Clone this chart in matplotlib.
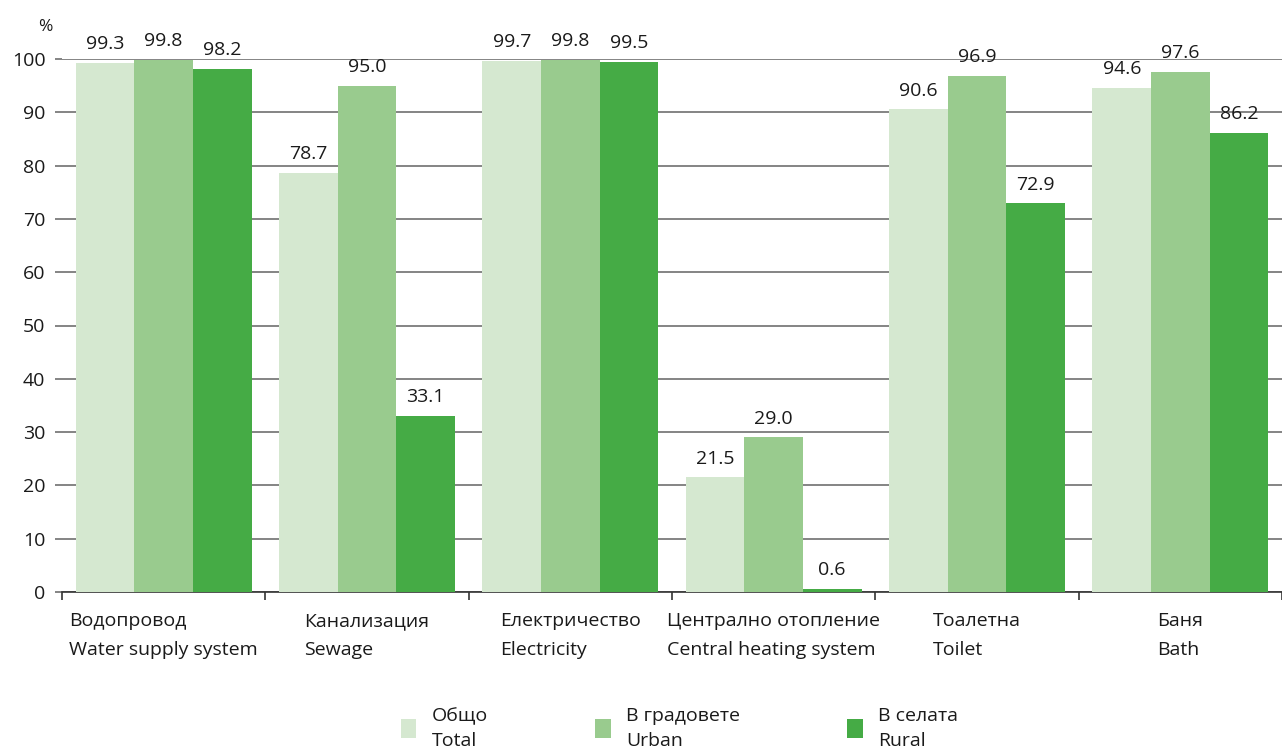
import numpy as np
import matplotlib.pyplot as plt

plt.rcParams['font.family'] = ['Open Sans', 'DejaVu Sans']

categories = ['Водопровод\nWater supply system', 'Канализация\nSewage',
              'Електричество\nElectricity', 'Централно отопление\nCentral heating system',
              'Тоалетна\nToilet', 'Баня\nBath']
series_names = ['Общо\nTotal', 'В градовете\nUrban', 'В селата\nRural']
total = [99.3, 78.7, 99.7, 21.5, 90.6, 94.6]
urban = [99.8, 95.0, 99.8, 29.0, 96.9, 97.6]
rural = [98.2, 33.1, 99.5, 0.6, 72.9, 86.2]
colors = ['#d5e8d0', '#99cb8e', '#45ab45']

fs = 14

fig = plt.figure(figsize=(12.82, 7.55), dpi=100)
ax = fig.add_axes([62 / 1282, 1 - 592 / 755, 1220 / 1282, (592 - 59) / 755])

x = np.arange(len(categories))
w = 0.288
for k, (vals, col) in enumerate(zip([total, urban, rural], colors)):
    pos = x + (k - 1) * w
    ax.bar(pos, vals, width=w, color=col, label=series_names[k], zorder=3)
    for p, v in zip(pos, vals):
        ax.text(p, v + 1.8, f'{v:.1f}', ha='center', va='bottom', fontsize=fs,
                color='#1a1a1a', zorder=4)

ax.set_xlim(-0.5, len(categories) - 0.5)
ax.set_ylim(0, 100)
ax.set_yticks(range(0, 101, 10))
ax.yaxis.grid(True, color='#6f6f6f', linewidth=1.2, zorder=0)
ax.set_axisbelow(True)
for s in ['top', 'right', 'left']:
    ax.spines[s].set_visible(False)
ax.spines['bottom'].set_color('#333333')
ax.spines['bottom'].set_linewidth(1.2)
ax.tick_params(axis='y', length=5, color='#6f6f6f', width=1.2, labelsize=fs,
               labelcolor='#1a1a1a', pad=7)

# category boundary ticks on the x axis
ax.set_xticks(np.arange(len(categories) + 1) - 0.5)
ax.set_xticklabels([])
ax.tick_params(axis='x', length=6, width=1.2, color='#333333', direction='out')
for i, lab in enumerate(categories):
    ax.text(i, -3.8, lab, ha='center', va='top', multialignment='left',
            fontsize=fs, color='#1a1a1a', linespacing=1.75)

ax.text(-0.58, 104.5, '%', ha='center', va='bottom', fontsize=12.5, color='#1a1a1a')

fig.legend(loc='lower center', bbox_to_anchor=(0.53, -0.016), ncol=3, frameon=False,
           fontsize=fs, handlelength=0.8, handleheight=1.1, columnspacing=5.5,
           handletextpad=0.8, labelcolor='#1a1a1a', labelspacing=0.3)
for t in fig.legends[0].get_texts():
    t.set_linespacing(1.45)

fig.savefig('out.png', dpi=100)
